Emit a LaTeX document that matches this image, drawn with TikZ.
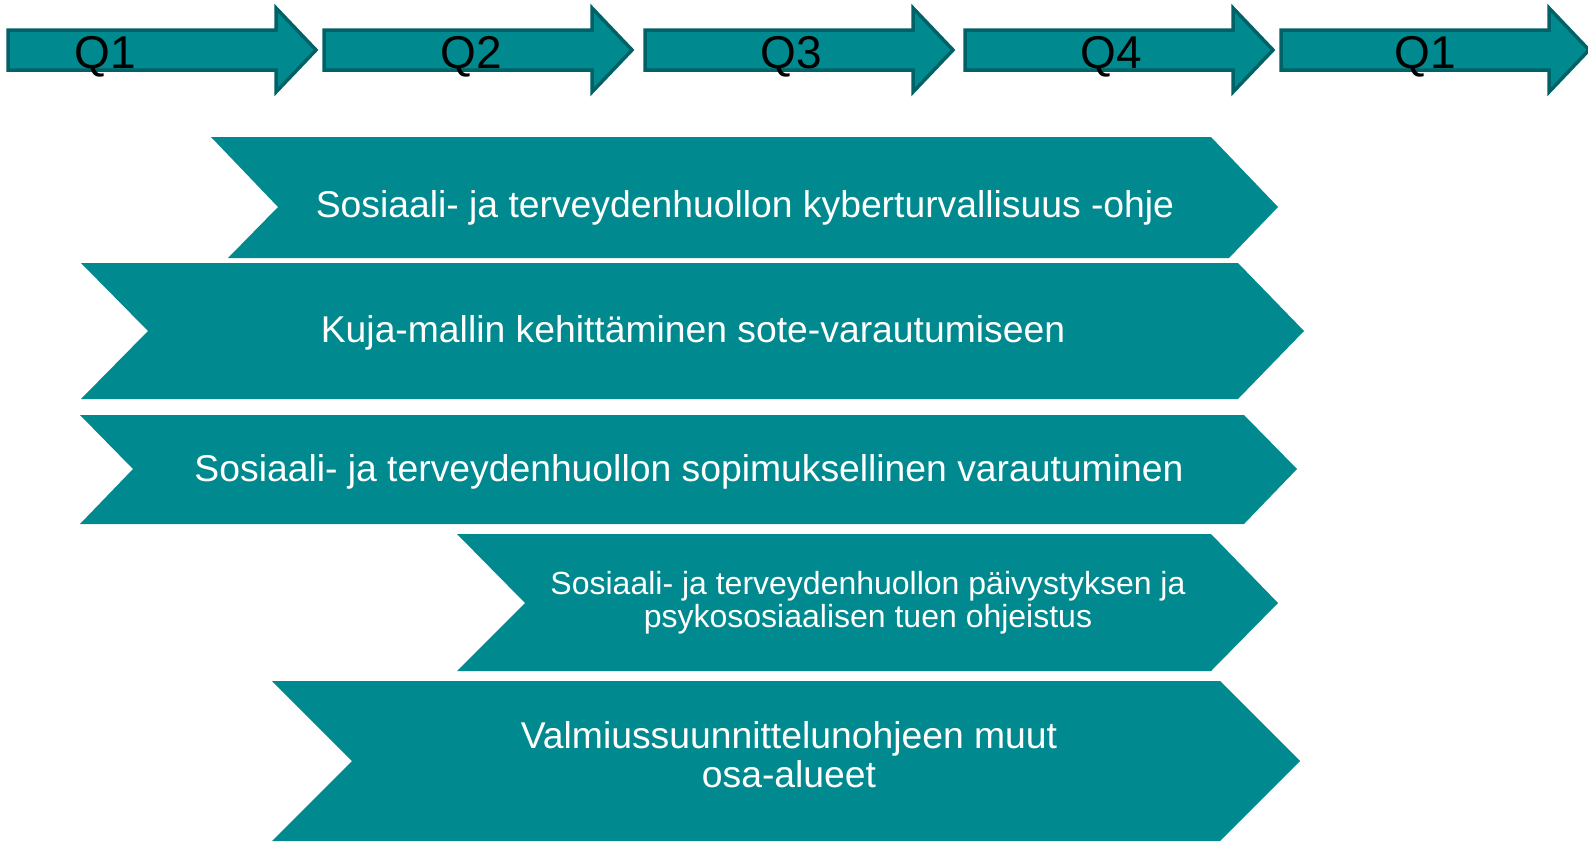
\documentclass[tikz,border=0pt]{standalone}
\usepackage{fontspec}
\setmainfont{Liberation Sans}
\definecolor{tealfill}{RGB}{0,138,143}
\definecolor{tealedge}{RGB}{0,98,102}
\tikzset{
    quarter/.style = {draw=tealedge, fill=tealfill, line width=3.5pt, line join=miter},
    qlabel/.style = {font=\fontsize{46}{46}\selectfont, text=black, inner sep=0pt, anchor=base},
    chevron/.style = {fill=tealfill},
    chevtext/.style = {text=white, align=center, inner sep=0pt, anchor=base, font=\fontsize{37.3}{39}\selectfont},
    smalltext/.style = {chevtext, font=\fontsize{32}{33}\selectfont},
}

\begin{document}
\begin{tikzpicture}[x=1pt,y=-1pt]
    \useasboundingbox (0,0) rectangle (1588,841);
    % quarter arrows
    \foreach \x/\q/\t [count=\i] in {8/Q1/105, 324/Q2/471, 645/Q3/791, 965/Q4/1111, 1281/Q1/1425} {
        \draw[quarter] (\x,30) -- ++(268,0) -- ++(0,-22) -- ++(40,42) -- ++(-40,42) -- ++(0,-22) -- (\x,70) -- cycle;
        \node[qlabel] (q\i) at (\t,68) {\q};
    }
    % tasks
    \fill[chevron] (211,137) -- (1211,137) -- (1278,207) -- (1229,258) -- (228,258) -- (278,207) -- cycle;
    \node[chevtext] (kyber) at (745,217) {Sosiaali- ja terveydenhuollon kyberturvallisuus -ohje};
    \fill[chevron] (81,263) -- (1238,263) -- (1304,331) -- (1238,399) -- (81,399) -- (148,331) -- cycle;
    \node[chevtext] (kuja) at (693,342) {Kuja-mallin kehittäminen sote-varautumiseen};
    \fill[chevron] (80,415) -- (1244,415) -- (1297,469) -- (1244,524) -- (80,524) -- (133,469) -- cycle;
    \node[chevtext] (sopimus) at (689,481) {Sosiaali- ja terveydenhuollon sopimuksellinen varautuminen};
    \fill[chevron] (457,534) -- (1211,534) -- (1278,603) -- (1211,671) -- (457,671) -- (525,603) -- cycle;
    \node[smalltext] (paivystys) at (868,627) {Sosiaali- ja terveydenhuollon päivystyksen ja\\psykososiaalisen tuen ohjeistus};
    \fill[chevron] (272,681) -- (1220,681) -- (1300,761) -- (1220,841) -- (272,841) -- (352,761) -- cycle;
    \node[chevtext] (muut) at (789,787) {Valmiussuunnittelunohjeen muut\\osa-alueet};
\end{tikzpicture}
\end{document}
